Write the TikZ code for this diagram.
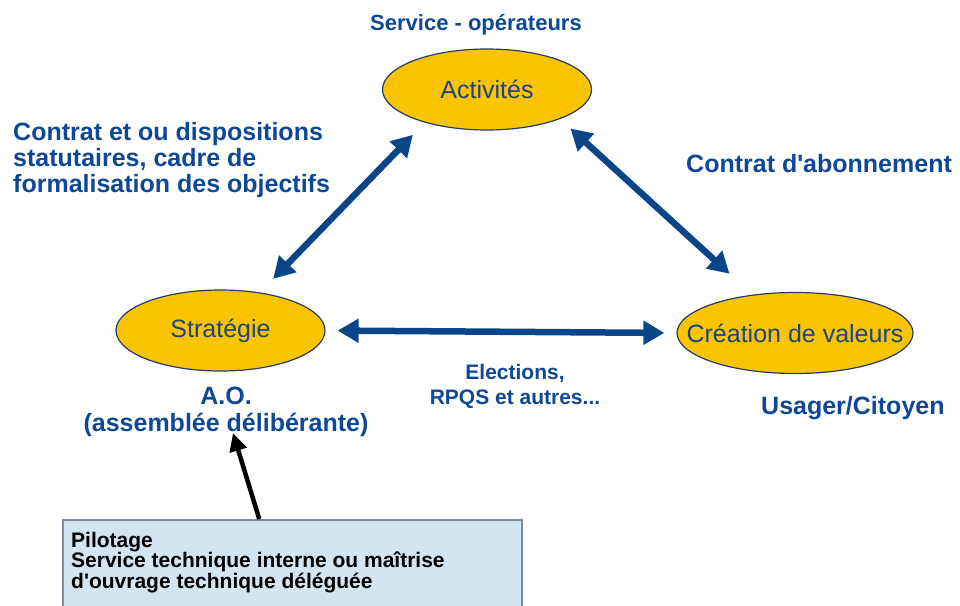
\documentclass[tikz,border=0pt]{standalone}
\usepackage{fontspec}
\setmainfont{Liberation Sans}
\usetikzlibrary{shapes.geometric,arrows.meta}
\definecolor{ovalfill}{RGB}{250,196,0}
\definecolor{ovaldraw}{RGB}{35,60,105}
\definecolor{ovaltext}{RGB}{28,68,125}
\definecolor{lblblue}{RGB}{14,72,148}
\definecolor{arrblue}{RGB}{10,70,135}
\definecolor{pilfill}{RGB}{209,230,242}
\definecolor{pildraw}{RGB}{128,138,150}
\tikzset{
  oval/.style={ellipse, draw=ovaldraw, line width=1.2pt, fill=ovalfill, text=ovaltext,
    inner sep=0pt, minimum height=81pt, font=\fontsize{25}{28}\selectfont},
  lbl/.style={text=lblblue, inner sep=0pt, font=\fontsize{25}{26}\selectfont\bfseries},
  biarrow/.style={arrblue, line width=6.5pt,
    {Triangle[length=21pt,width=23pt]}-{Triangle[length=21pt,width=23pt]}},
  pilarrow/.style={black, line width=4.5pt, -{Triangle[length=18pt,width=17pt]}},
}
\begin{document}
\begin{tikzpicture}[x=1pt,y=-1pt]
  \useasboundingbox (0,0) rectangle (960,605);
  \clip (0,0) rectangle (960,605);
  \foreach \n/\x/\y/\w/\t in {act/487/89.5/209/Activités, str/220.5/330.5/209/Stratégie,
      val/795/333/236/Création de valeurs} {
    \node[oval, minimum width=\w pt] (\n) at (\x,\y) {\makebox[0pt]{\t}};
  }
  \draw[biarrow, shorten <=17pt, shorten >=19pt] (act.208) -- (str.44);
  \draw[biarrow, shorten <=14pt, shorten >=31pt] (act.-22) -- (val.138);
  \draw[biarrow, shorten <=12pt, shorten >=12pt] (str.east) -- (val.west);
  \node[lbl, anchor=north, font=\fontsize{22}{24}\selectfont\bfseries] (serv) at (476,14) {Service - opérateurs};
  \node[lbl, anchor=north west, align=left] (contr) at (13,122)
    {Contrat et ou dispositions\\statutaires, cadre de\\formalisation des objectifs};
  \node[lbl, anchor=north west] (abon) at (686,154) {Contrat d\textquotesingle abonnement};
  \node[lbl, anchor=north, align=center, font=\fontsize{21}{25}\selectfont\bfseries] (elec) at (515,364)
    {Elections,\\RPQS et autres...};
  \node[lbl, anchor=north, align=center, font=\fontsize{25}{27}\selectfont\bfseries] (ao) at (226,387)
    {A.O.\\(assemblée délibérante)};
  \node[lbl, anchor=north west] (usag) at (761,396) {Usager/Citoyen};
  \node[draw=pildraw, line width=1.5pt, fill=pilfill, anchor=north west, minimum width=459pt,
    minimum height=100pt] (pil) at (62,519) {};
  \node[anchor=north west, align=left, inner sep=0pt, font=\fontsize{21}{20.5}\selectfont\bfseries]
    (piltxt) at ([shift={(9pt,-13pt)}]pil.north west)
    {Pilotage\\Service technique interne ou maîtrise\\d\textquotesingle ouvrage technique déléguée};
  \draw[pilarrow] ([xshift=-33pt]pil.north) -- ([xshift=7pt,yshift=4pt]ao.south);
\end{tikzpicture}
\end{document}
